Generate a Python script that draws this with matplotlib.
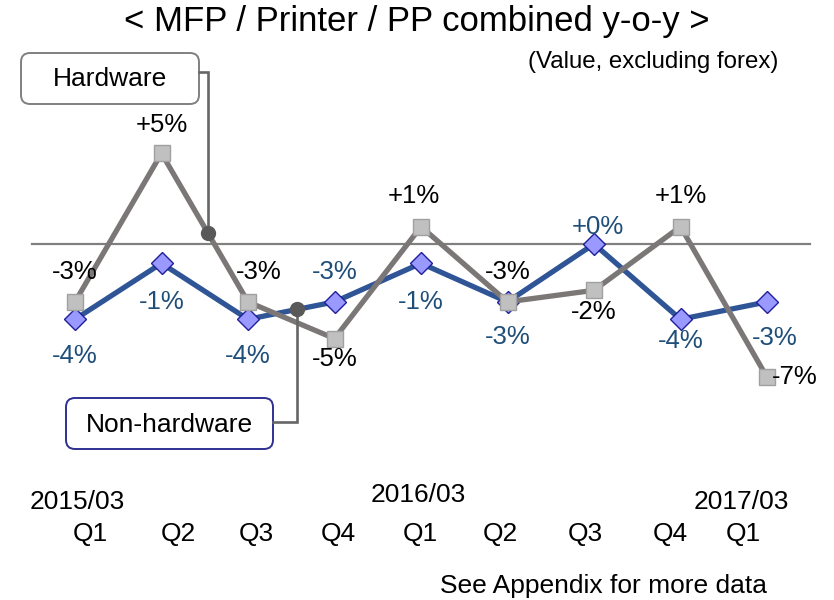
import matplotlib
matplotlib.use('Agg')
import matplotlib.pyplot as plt
from matplotlib.patches import FancyBboxPatch
import numpy as np

plt.rcParams['font.family'] = ['Liberation Sans', 'DejaVu Sans']

# data (y-o-y %, value excl. forex)
quarters = ['Q1', 'Q2', 'Q3', 'Q4', 'Q1', 'Q2', 'Q3', 'Q4', 'Q1']
years = ['2015/03', '2016/03', '2017/03']
hardware = [-3.0, 4.7, -3.0, -4.9, 0.9, -3.0, -2.4, 0.9, -6.9]
non_hardware = [-3.9, -1.0, -3.9, -3.0, -1.0, -3.0, 0.0, -3.9, -3.0]

W, H = 834, 600
fig = plt.figure(figsize=(W / 100, H / 100), dpi=100)

# main axes fills the figure, data scale picked so points land like the slide
ax = fig.add_axes([0, 0, 1, 1])
ax.axis('off')
ax.set_xlim(-75 / 86.5, (W - 75) / 86.5)
ax.set_ylim((244 - H) / 19.3, 244 / 19.3)

# overlay in pixel coords for boxes / free text
lay = fig.add_axes([0, 0, 1, 1], zorder=5)
lay.set_xlim(0, W)
lay.set_ylim(H, 0)
lay.axis('off')
lay.patch.set_alpha(0)

x = np.arange(len(hardware))

ax.axhline(0, xmin=32 / W, xmax=810 / W, color='#808080', lw=1.6, zorder=1)

ax.plot(x, non_hardware, color='#2f5597', lw=3.8, marker='D', ms=11,
        mfc='#9999ff', mec='#1f1f99', mew=1, zorder=3)
ax.plot(x, hardware, color='#7b7776', lw=3.8, marker='s', ms=11,
        mfc='#c0c0c0', mec='#a0a0a0', mew=1, zorder=4)

# label offsets in pixels (dx, dy up)
hw_off = [(0, 30), (0, 28), (11, 30), (0, -20), (-7, 31), (0, 30), (0, -22), (0, 31), (28, 0)]
nh_off = [(0, -37), (0, -39), (0, -37), (0, 30), (0, -39), (0, -35), (4, 17), (0, -22), (8, -36)]

for i, v in enumerate(hardware):
    ax.annotate(f"{int(round(v)):+d}%", (x[i], v), xytext=hw_off[i],
                textcoords='offset pixels', ha='center', va='center',
                fontsize=18.5, color='black', zorder=6)
for i, v in enumerate(non_hardware):
    ax.annotate(f"{int(round(v)):+d}%", (x[i], v), xytext=nh_off[i],
                textcoords='offset pixels', ha='center', va='center',
                fontsize=18.5, color='#1f4e79', zorder=6)

# title texts
lay.text(417, 22, '< MFP / Printer / PP combined y-o-y >', ha='center', va='center', fontsize=25)
lay.text(653, 62, '(Value, excluding forex)', ha='center', va='center', fontsize=17.3)
lay.text(604, 586, 'See Appendix for more data', ha='center', va='center', fontsize=19)

# x axis labels
q_x = [90, 178, 256, 338, 420, 500, 585, 670, 743]
for qx, q in zip(q_x, quarters):
    lay.text(qx, 534, q, ha='center', va='center', fontsize=19)
for (yx, yy), yl in zip([(77, 502), (418, 495), (741, 502)], years):
    lay.text(yx, yy, yl, ha='center', va='center', fontsize=19)


def to_px(xd, yd):
    dx, dy = ax.transData.transform((xd, yd))
    return dx, H - dy


# callouts
def callout(box, edge, label, anchor_y, line_x, series, xd):
    x0, y0, x1, y1 = box
    lay.add_patch(FancyBboxPatch((x0, y0), x1 - x0, y1 - y0,
                                 boxstyle='round,pad=0,rounding_size=9',
                                 fc='white', ec=edge, lw=1.4))
    lay.text((x0 + x1) / 2, (y0 + y1) / 2 + 1, label, ha='center', va='center', fontsize=19)
    yd = np.interp(xd, x, series)
    px, py = to_px(xd, yd)
    lay.plot([x1, line_x, line_x], [anchor_y, anchor_y, py], color='#666666', lw=1.9,
             solid_joinstyle='miter')
    lay.plot(px, py, 'o', ms=10, color='#595959')


callout((21, 53, 199, 104), '#808080', 'Hardware', 72, 208, hardware, (208 - 75) / 86.5)
callout((66, 398, 273, 449), '#2e3192', 'Non-hardware', 422, 297, non_hardware, (297 - 75) / 86.5)

fig.savefig('out.png', dpi=100)
